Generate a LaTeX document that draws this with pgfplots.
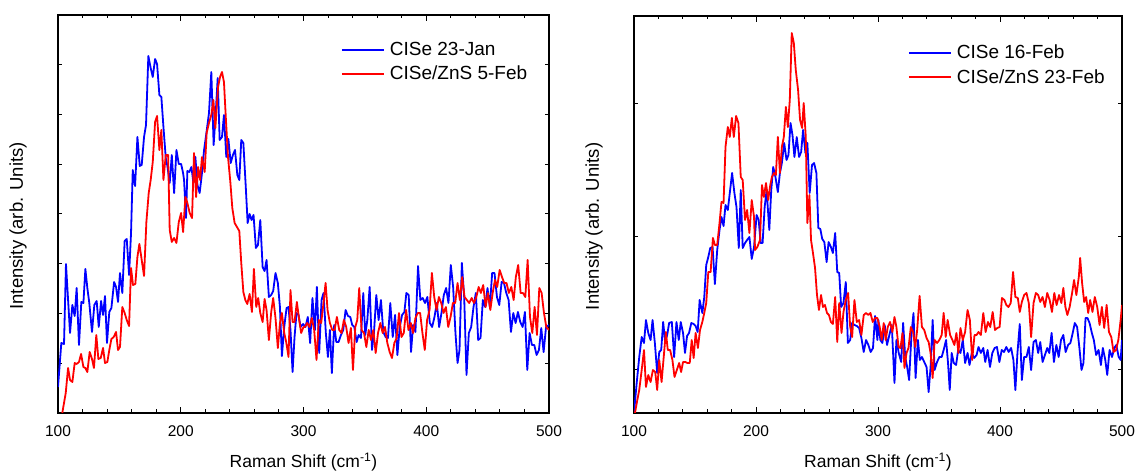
\documentclass[border=0pt]{standalone}
\usepackage{fontspec}
\setmainfont{Liberation Sans}
\usepackage{pgfplots}
\pgfplotsset{compat=1.18}
\definecolor{pblue}{RGB}{0,0,255}
\definecolor{pred}{RGB}{255,0,0}
\pgfplotsset{myax/.style={
  scale only axis, xmin=100, xmax=500, xtick={100,200,...,500}, minor x tick num=4,
  tick align=inside, yticklabels={},
  /pgf/number format/assume math mode=true,
  axis line style={line width=1.3pt},
  major tick length=6pt, minor tick length=3.5pt,
  y tick style={/pgfplots/major tick length=4pt},
  every tick/.style={black, line width=1pt},
  tick label style={font=\fontsize{15.5}{18}\selectfont},
  xticklabel style={yshift=-9pt},
  xlabel style={font=\fontsize{17.5}{20}\selectfont},
  ylabel style={font=\fontsize{18.5}{21}\selectfont},
  xlabel={Raman Shift (cm\textsuperscript{-1})},
  ylabel={Intensity (arb. Units)},
  legend style={draw=none, fill=none, font=\fontsize{19}{22}\selectfont, row sep=5pt, cells={anchor=west}},
  legend image code/.code={\draw[#1, line width=1.8pt] (0pt,0pt) -- (42pt,0pt); \path (45pt,0pt);},
  every axis plot/.append style={line width=1.8pt, line join=round},
}}
\begin{document}
\begin{tikzpicture}
\useasboundingbox (0,0) rectangle (1135pt,473pt);
% ---------------- left panel ----------------
\begin{axis}[myax, at={(58pt,60pt)}, anchor=south west, width=491pt, height=398pt,
  ymin=0, ymax=398, ytick={49.75,99.5,149.25,199,248.75,298.5,348.25},
  xlabel style={at={(axis description cs:0.5,-0.123)}, anchor=center},
  ylabel style={at={(axis description cs:-0.0815,0.47)}, anchor=center},
  legend style={at={(0.57,0.942)}, anchor=north west}]
\addplot[pblue] coordinates {(100,26)(102.7,70)(104.9,69)(106.5,149)(109.8,80)(111.7,108)(113.6,97)(115.2,125)(117.1,68)(119,111)(120.7,110)(122.3,144)(123.9,125)(125.5,110)(127.7,81)(129.6,108)(131.5,112)(133.2,86)(135.1,112)(136.7,98)(138.3,117)(139.9,70)(141.8,101)(143.5,105)(145.7,131)(147.3,126)(148.9,111)(150.5,140)(152.4,120)(154.3,172)(156,174)(157.9,138)(159.5,180)(160.9,243)(162.8,227)(164.7,276)(166.6,247)(168.2,248)(170.1,276)(171.7,288)(173.6,357)(175.5,345)(177.2,336)(179.1,354)(180.7,349)(182.6,318)(184.2,316)(185.9,286)(187.8,255)(189.1,247)(191,230)(192.7,258)(194.6,220)(196.5,263)(198.4,249)(200.3,249)(201.9,240)(202.7,233)(204.3,195)(205.4,242)(207,241)(208.7,246)(210.3,230)(211.9,256)(213.6,228)(215.4,220)(217.3,240)(219,263)(220.9,280)(223,300)(224.9,341)(226.8,268)(228.5,300)(230.1,335)(231.7,273)(233.6,276)(235.2,298)(237.1,256)(238.8,274)(240.7,250)(242.5,258)(244.2,263)(246.1,238)(247.7,233)(249.3,273)(251,270)(252.8,230)(254.5,190)(256.1,199)(257.7,193)(259.3,198)(261.2,165)(262.9,168)(264.8,193)(266.7,146)(268.3,142)(269.9,153)(271.8,116)(273.7,118)(275.3,122)(277.2,140)(279.1,130)(280.8,106)(282.4,57)(284.3,86)(286.2,105)(287.8,106)(289.4,83)(291.1,41)(292.7,76)(294.3,100)(296,98)(297.6,86)(299.7,89)(301.6,86)(303.5,96)(305.4,70)(307.3,115)(309.3,83)(310.9,126)(312.8,60)(314.7,113)(316.3,120)(318.2,80)(319.9,56)(321.5,83)(323.1,40)(325,88)(326.7,71)(328.6,71)(330.5,78)(332.4,83)(334.3,103)(336.2,97)(338.1,96)(339.7,88)(341.4,86)(343.3,71)(344.9,78)(346.8,75)(348.7,120)(350.3,78)(352,93)(353.9,126)(355.8,63)(357.4,80)(359.3,118)(361.2,93)(363.1,113)(365,81)(366.9,76)(368.8,75)(370.7,110)(372.7,76)(374.6,98)(376.5,58)(378.4,86)(380.3,98)(382.2,101)(383.8,120)(385.7,118)(387.6,61)(389.3,88)(391.2,81)(393.3,147)(395.2,113)(397.1,115)(399,110)(400.9,116)(402.9,90)(404.8,86)(406.7,96)(408.6,110)(410.5,86)(412.4,100)(414.3,118)(416.2,125)(418.1,110)(420,148)(421.9,126)(423.8,80)(425.5,50)(427.1,63)(429,150)(430.9,116)(432.8,38)(434.7,80)(436.6,86)(438.5,106)(440.4,120)(442.3,73)(444.2,75)(446.1,113)(448,106)(449.9,125)(451.8,106)(453.7,140)(455.6,140)(457.6,116)(459.5,108)(461.4,131)(463.3,130)(465.2,120)(467.1,113)(469,81)(470.9,100)(472.8,90)(474.7,101)(476.6,91)(478.5,86)(480.4,101)(482.3,43)(484.2,80)(486.1,68)(488,68)(489.9,58)(491.8,63)(493.7,85)(495.6,61)(497.6,86)(500,88)};
\addlegendentry{CISe 23-Jan}
\addplot[pred] coordinates {(103.5,0)(106.3,20)(108.2,45)(109.8,33)(111.7,31)(113.6,50)(115.2,49)(117.1,51)(118.8,59)(120.7,46)(122.3,45)(123.9,41)(125.8,61)(127.7,54)(129.3,45)(131.2,78)(132.9,54)(134.8,55)(136.7,65)(138.3,50)(140.2,51)(141.8,63)(143.5,74)(145.4,76)(147.3,81)(148.9,63)(150.5,66)(152.4,106)(154.3,100)(156,93)(157.9,87)(159.5,145)(161.1,128)(163,129)(164.7,156)(166.3,169)(168.2,153)(170.1,137)(172,191)(173.9,220)(175.5,233)(177.2,251)(179.1,291)(180.7,297)(182.6,263)(184.2,283)(185.9,233)(187.8,258)(189.7,258)(191,183)(192.7,171)(194.6,175)(196.5,170)(198.4,191)(200.3,200)(201.9,181)(203.8,216)(205.4,210)(207.3,200)(209.2,195)(210.8,260)(212.5,216)(214.1,246)(215.7,233)(217.3,256)(219.5,241)(221.1,280)(223,290)(224.9,298)(226.6,313)(228.2,285)(230.4,326)(232,336)(233.6,341)(235.2,331)(236.6,298)(238.5,256)(240.4,231)(242,205)(243.9,190)(245.8,186)(247.7,182)(249.3,150)(251,121)(252.6,113)(254.2,109)(256.1,119)(258,101)(259.6,144)(261.5,106)(263.1,115)(264.8,100)(266.7,91)(268.3,114)(269.9,103)(271.8,73)(273.7,101)(275.3,115)(277.2,95)(279.1,65)(280.8,90)(282.4,100)(284.3,80)(285.9,71)(287.8,56)(289.4,123)(291.1,91)(292.7,91)(294.6,111)(296.5,93)(298.1,80)(300,86)(301.1,86)(303,90)(304.9,86)(306.8,95)(308.7,83)(310.6,53)(312.5,93)(314.4,90)(316.3,110)(318,130)(319.6,103)(321.5,90)(323.4,83)(325.3,83)(327.2,96)(329.1,83)(331,80)(332.9,93)(334.8,86)(336.7,70)(338.6,85)(340.3,43)(342.2,86)(343.8,93)(345.4,125)(347.3,83)(349.3,80)(351.2,66)(353.1,83)(355,73)(356.9,83)(358.8,60)(360.7,80)(362.6,90)(364.5,80)(366.4,86)(368.3,70)(370.2,61)(372.1,55)(374,70)(375.9,75)(377.8,100)(379.8,76)(381.7,80)(383.6,103)(385.5,83)(387.4,90)(389.3,80)(391.2,95)(393.1,100)(395,100)(396.9,80)(398.8,63)(400.7,93)(402.7,103)(404.6,140)(406.5,116)(408.4,103)(410.3,116)(412.2,110)(414.1,100)(416,106)(417.9,86)(419.8,96)(421.7,110)(423.6,110)(425.5,130)(427.4,113)(429.3,136)(431.2,116)(433.1,113)(435,110)(437,115)(438.9,110)(440.8,116)(442.7,126)(444.5,120)(446.4,128)(448.4,106)(450.3,120)(452.2,103)(454.1,120)(456,133)(457.8,126)(459.8,143)(461.7,136)(463.5,130)(465.4,130)(467.3,120)(469.3,126)(471.2,113)(473,136)(474.9,148)(476.9,120)(478.8,120)(480.7,116)(482.6,153)(484.5,96)(486.4,80)(488.3,106)(490.2,78)(492.1,125)(494,120)(495.9,100)(497.8,86)(500,83)};
\addlegendentry{CISe/ZnS 5-Feb}
\end{axis}
% ---------------- right panel ----------------
\begin{axis}[myax, at={(634pt,60pt)}, anchor=south west, width=488pt, height=397pt,
  ymin=0, ymax=397, ytick={43,176,309},
  xlabel style={at={(axis description cs:0.5,-0.123)}, anchor=center},
  ylabel style={at={(axis description cs:-0.082,0.47)}, anchor=center},
  legend style={at={(0.555,0.937)}, anchor=north west}]
\addplot[pblue] coordinates {(100,0)(102.2,30)(104.3,56)(106.3,76)(108.2,70)(109.8,93)(111.7,80)(113.6,73)(115.2,93)(117.1,70)(119,40)(120.7,61)(122.3,63)(123.9,91)(125.5,71)(127.2,78)(128.8,90)(131,91)(132.9,56)(134.8,91)(136.7,73)(138.3,91)(140.2,80)(141.8,60)(143.5,77)(145.1,80)(147,90)(148.9,89)(150.5,87)(152.2,81)(153.8,113)(156,100)(157.6,116)(159.2,148)(160.9,156)(162.5,165)(164.4,166)(166.3,129)(168.2,163)(170.1,183)(171.7,196)(173.4,187)(175,208)(176.9,203)(178.8,223)(180.4,240)(182.3,220)(184,206)(185.9,165)(187.5,223)(189.1,165)(191,170)(192.7,173)(194.6,176)(196.5,154)(198.4,166)(200.5,198)(202.2,193)(203.8,170)(205.4,170)(207.1,206)(208.7,223)(210.9,183)(212.5,223)(214.1,246)(215.8,237)(217.9,221)(219.6,240)(221.2,250)(223.1,270)(225,253)(226.6,258)(228.3,290)(229.9,278)(231.5,256)(233.4,276)(235.3,256)(237,261)(238.6,283)(240.5,260)(242.1,270)(244,220)(245.9,248)(247.6,250)(249.5,240)(251.1,185)(252.7,184)(254.3,174)(256,171)(257.9,151)(259.5,171)(261.4,166)(263,160)(264.9,180)(266.6,141)(268.2,140)(269.8,106)(271.7,110)(273.6,131)(275.3,70)(277.2,73)(278.8,90)(280.7,88)(282.6,87)(284.5,85)(286.4,75)(288.3,61)(290.2,73)(292.1,68)(294,61)(295.9,65)(297.6,97)(299.5,73)(300.3,93)(301.9,73)(303.6,70)(305.5,88)(307.4,68)(309.3,78)(311.3,88)(313.5,30)(315.1,73)(317,60)(319,51)(320.6,90)(322.3,56)(323.9,46)(325.5,33)(327.5,80)(329.1,100)(330.8,35)(332.7,73)(334.3,53)(336,56)(337.9,51)(339.8,46)(341.5,21)(343.1,46)(344.8,93)(346.4,43)(348.4,51)(350.3,56)(352.2,56)(353.8,63)(355.8,73)(357.4,50)(358.8,23)(360.4,60)(362.1,50)(364,48)(365.7,63)(367.6,60)(369.5,73)(371.4,50)(373.4,60)(375,48)(376.9,60)(378.8,55)(380.8,58)(382.4,66)(384.3,60)(386.3,65)(387.9,51)(389.8,63)(391.8,46)(393.7,60)(395.6,65)(397.5,66)(399.5,51)(401.4,63)(403.3,61)(405.2,66)(407.1,61)(409.1,65)(411,53)(412.6,23)(414.3,60)(416.2,89)(417.9,33)(419.8,56)(421.7,56)(423.6,66)(425.5,43)(427.5,71)(429.4,73)(431.3,60)(433,71)(434.9,51)(436.8,58)(438.7,65)(440.4,60)(442.3,80)(444.2,51)(446.2,68)(448.1,56)(450,73)(451.9,78)(453.8,61)(455.8,68)(457.7,70)(459.6,80)(461.3,90)(463.2,86)(465.1,65)(466.8,43)(468.4,50)(470.1,95)(471.7,95)(473.4,90)(475.3,80)(476.9,73)(478.8,58)(480.8,63)(482.7,48)(484.3,65)(486.3,53)(487.9,38)(489.8,63)(491.8,56)(493.7,65)(495.3,68)(497.3,56)(498.9,53)(500,73)};
\addlegendentry{CISe 16-Feb}
\addplot[pred] coordinates {(100.8,0)(102.7,13)(104.3,23)(106.3,43)(108.2,63)(109.8,26)(111.7,38)(113.6,31)(115.5,43)(117.4,41)(119,23)(120.7,53)(122.6,31)(124.5,58)(126.1,81)(127.7,63)(129.6,63)(131.5,53)(133.2,36)(135.1,43)(137,50)(138.6,41)(140.2,51)(142.1,51)(143.8,50)(145.7,50)(147.3,73)(148.9,55)(150.5,80)(152.4,65)(154.1,83)(156,91)(157.6,100)(159.2,110)(160.9,141)(162.8,141)(164.7,175)(166.3,168)(168.2,168)(170.1,190)(171.7,211)(173.4,210)(175,266)(176.9,286)(178.5,276)(180.2,295)(181.8,276)(183.7,297)(185.6,290)(187.5,236)(189.1,233)(191,193)(192.7,203)(194.6,180)(196.5,213)(198.4,196)(199.2,163)(201.1,166)(203.3,173)(204.9,228)(206.5,216)(208.2,230)(210,213)(211.7,228)(213,236)(214.7,240)(216.3,238)(217.9,276)(219.6,240)(221.2,266)(222.8,276)(224.5,306)(226.1,286)(227.7,313)(229.3,380)(231,370)(232.6,343)(234.5,323)(236.1,293)(237.8,285)(239.1,310)(240.8,276)(242.1,190)(243.8,218)(245.1,173)(246.7,160)(248.4,145)(250,118)(251.6,103)(253.3,118)(254.9,106)(256.5,108)(258.2,100)(259.8,98)(261.4,91)(263,89)(264.9,116)(266.6,71)(268.2,110)(270.1,80)(271.7,101)(273.6,113)(275.5,120)(277.2,86)(278.8,76)(280.7,113)(282.6,91)(284.5,93)(286.4,78)(288.3,98)(290.2,100)(292.1,98)(293.8,100)(295.7,91)(297.6,95)(299.5,95)(301.4,86)(303,73)(304.7,90)(306.3,73)(308,86)(309.9,91)(311.8,81)(313.5,96)(315.1,86)(316.8,66)(318.4,65)(320.1,80)(321.7,45)(323.4,60)(325,65)(326.9,86)(328.8,81)(330.5,66)(332.1,83)(334.1,117)(336,86)(337.9,83)(339.8,75)(341.5,71)(343.1,60)(344.8,35)(346.4,73)(348.4,70)(350.3,73)(352.2,78)(353.8,100)(355.5,76)(357.1,93)(359.1,78)(361,73)(362.6,68)(364.3,80)(365.9,60)(367.6,85)(369.5,73)(371.4,81)(373.4,103)(375.3,93)(377.2,53)(379.1,78)(380.8,78)(382.4,81)(384.3,78)(386.3,100)(388.2,81)(390.1,91)(392,86)(394,101)(395.9,83)(397.8,85)(399.7,86)(401.6,115)(403.6,113)(405.2,108)(406.9,106)(408.8,110)(410.7,141)(412.6,116)(414.6,115)(416.2,101)(417.9,111)(419.8,118)(421.7,120)(423.6,110)(425.5,76)(427.5,110)(429.4,120)(431.3,118)(433,111)(434.9,116)(436.8,106)(438.7,120)(440.7,113)(442.6,101)(444.5,120)(446.4,108)(448.4,118)(450.3,110)(451.9,125)(453.6,106)(455.2,98)(457.1,106)(459.1,120)(460.7,133)(462.6,118)(464.6,136)(465.7,155)(467.3,130)(469,111)(470.6,116)(472.3,100)(473.9,113)(475.8,101)(477.7,116)(479.7,106)(481.6,88)(483.5,106)(485.4,85)(487.4,108)(489.3,81)(491.2,76)(493.1,61)(495.1,63)(497,73)(498.9,93)(500,108)};
\addlegendentry{CISe/ZnS 23-Feb}
\end{axis}
\end{tikzpicture}
\end{document}
